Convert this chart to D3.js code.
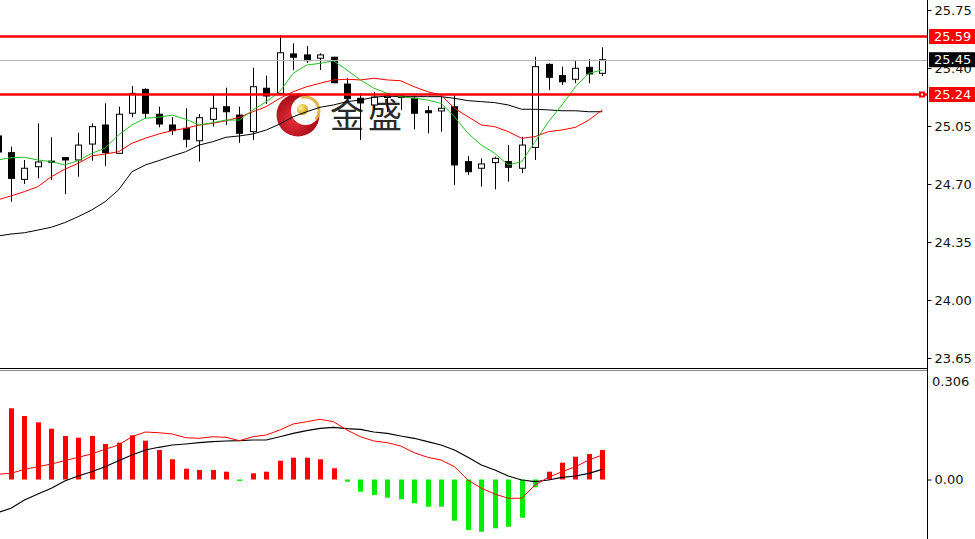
<!DOCTYPE html>
<html><head><meta charset="utf-8">
<script src="https://cdn.jsdelivr.net/npm/d3@7"></script>
<style>html,body{margin:0;padding:0;background:#fff;overflow:hidden}</style>
</head><body>
<svg id="c" width="975" height="539"></svg>
<script>
// ---- data (index -1 is the partly hidden bar on the left edge) ----
const candleIndex = d3.range(-1, 45);
const open  = [24.99,24.889,24.728,24.804,24.838,24.859,24.845,24.941,25.056,24.885,25.127,25.271,25.121,25.056,25.036,24.961,25.090,25.166,25.116,25.016,25.278,25.247,25.485,25.479,25.459,25.465,25.303,25.217,25.177,25.222,25.231,25.217,25.142,25.141,25.166,24.835,24.795,24.829,24.835,24.795,24.921,25.422,25.354,25.332,25.404,25.368];
const high  = [25.01,24.925,24.845,25.066,24.982,24.862,25.010,25.066,25.187,25.166,25.291,25.278,25.166,25.103,25.157,25.122,25.237,25.281,25.166,25.402,25.354,25.599,25.549,25.533,25.489,25.468,25.338,25.249,25.255,25.249,25.243,25.237,25.171,25.227,25.237,24.869,24.855,24.865,24.935,24.985,25.468,25.428,25.408,25.448,25.453,25.525];
const low   = [24.87,24.593,24.700,24.734,24.724,24.640,24.744,24.841,24.809,24.885,25.103,25.096,25.042,24.996,24.921,24.835,25.046,25.056,24.949,24.966,25.183,25.247,25.388,25.432,25.388,25.308,25.207,24.966,25.147,25.134,25.147,25.030,25.006,25.016,24.694,24.754,24.684,24.668,24.714,24.765,24.845,25.267,25.297,25.308,25.308,25.352];
const close = [24.893,24.734,24.795,24.833,24.836,24.845,24.935,25.046,24.889,25.121,25.247,25.127,25.062,25.022,24.970,25.100,25.157,25.136,25.006,25.287,25.231,25.492,25.465,25.444,25.479,25.311,25.217,25.189,25.225,25.231,25.222,25.127,25.130,25.157,24.815,24.774,24.821,24.855,24.801,24.935,25.408,25.344,25.317,25.398,25.364,25.450];
const maFast = [24.845,24.859,24.861,24.845,24.835,24.815,24.841,24.885,24.916,24.996,25.056,25.097,25.103,25.116,25.091,25.056,25.070,25.086,25.086,25.147,25.197,25.257,25.368,25.418,25.428,25.444,25.388,25.328,25.278,25.247,25.227,25.217,25.207,25.187,25.106,25.006,24.935,24.885,24.815,24.835,24.955,25.076,25.177,25.287,25.368,25.388];
const maMid  = [24.604,24.628,24.654,24.684,24.744,24.789,24.825,24.869,24.881,24.895,24.946,24.976,25.002,25.022,25.036,25.056,25.066,25.082,25.103,25.136,25.167,25.217,25.257,25.287,25.308,25.328,25.332,25.328,25.338,25.328,25.323,25.287,25.257,25.237,25.157,25.106,25.056,25.046,25.016,24.976,24.986,25.016,25.026,25.042,25.086,25.147];
const maSlow = [24.386,24.398,24.406,24.422,24.439,24.467,24.503,24.543,24.593,24.664,24.774,24.815,24.841,24.869,24.895,24.935,24.955,24.982,24.990,25.002,25.026,25.062,25.106,25.136,25.163,25.177,25.197,25.207,25.223,25.231,25.227,25.227,25.227,25.227,25.217,25.203,25.197,25.191,25.177,25.151,25.151,25.147,25.142,25.142,25.136,25.136];
const macdHist   = [null,0.2027,0.1808,0.1628,0.1446,0.1238,0.119,0.1238,0.1011,0.1048,0.1258,0.1104,0.084,0.0575,0.0307,0.027,0.027,0.0222,-0.003,0.0176,0.0222,0.0535,0.0621,0.0621,0.0575,0.0319,-0.0063,-0.0347,-0.0441,-0.0518,-0.0564,-0.0677,-0.0774,-0.0774,-0.1173,-0.1438,-0.1486,-0.1389,-0.1344,-0.1087,-0.0222,0.0222,0.0478,0.0649,0.0726,0.084];
const macdMain   = [0.015,0.0176,0.029,0.0364,0.0441,0.0535,0.0632,0.0726,0.086,0.0982,0.1218,0.1352,0.1332,0.1295,0.119,0.1173,0.1218,0.1201,0.1104,0.1218,0.1267,0.1409,0.158,0.1645,0.1714,0.1645,0.1409,0.1218,0.1096,0.1048,0.0954,0.0763,0.0632,0.0555,0.0364,-0.0014,-0.025,-0.0413,-0.0535,-0.0535,-0.0157,0.0063,0.0222,0.0364,0.0555,0.0697];
const macdSignal = [-0.094,-0.082,-0.0584,-0.0413,-0.025,-0.0043,0.01,0.0222,0.0364,0.0535,0.0697,0.084,0.0917,0.0982,0.1011,0.1048,0.1076,0.1096,0.1104,0.1124,0.1124,0.1218,0.1315,0.1389,0.1457,0.1486,0.1446,0.1429,0.1352,0.1315,0.1238,0.1173,0.1076,0.0982,0.084,0.0632,0.0413,0.027,0.01,-0.0014,-0.0063,-0.0014,0.0063,0.01,0.0176,0.029];
const priceTicks = [25.75, 25.40, 25.05, 24.70, 24.35, 24.00, 23.65];
const levelLines = [25.59, 25.24];
const lastPrice = 25.45;
const macdTicks = [0];
const macdMax = 0.306;
const watermark = "金盛";

// ---- layout ----
const AX = 927, UPB = 368, LOT = 372, H = 539;
const svg = d3.select('#c');
const x  = d3.scaleLinear().domain([0, 44]).range([11, 602.3]);
const yP = d3.scaleLinear().domain([23.65, 25.75]).range([358, 10]);
const yM = d3.scaleLinear().domain([0, macdMax]).range([479.5, LOT]);

const defs = svg.append('defs');
defs.append('clipPath').attr('id','cu').append('rect').attr('x',0).attr('y',0).attr('width',AX).attr('height',UPB);
defs.append('clipPath').attr('id','cl').append('rect').attr('x',0).attr('y',LOT).attr('width',AX).attr('height',H-LOT);
const rg = defs.append('radialGradient').attr('id','rg').attr('cx','40%').attr('cy','60%').attr('r','60%');
rg.append('stop').attr('offset','0%').attr('stop-color','#e8303a');
rg.append('stop').attr('offset','100%').attr('stop-color','#a00a14');
const gg = defs.append('radialGradient').attr('id','gg').attr('cx','35%').attr('cy','35%').attr('r','70%');
gg.append('stop').attr('offset','0%').attr('stop-color','#fff2a0');
gg.append('stop').attr('offset','100%').attr('stop-color','#c99a10');

const data = candleIndex.map((k, j) => ({k, o: open[j], h: high[j], l: low[j], c: close[j],
  g: maFast[j], r: maMid[j], b: maSlow[j], hist: macdHist[j], m: macdMain[j], s: macdSignal[j]}));

// ---- upper panel ----
const up = svg.append('g').attr('clip-path','url(#cu)');

// watermark
const wm = up.append('g');
wm.append('circle').attr('cx',298).attr('cy',115).attr('r',21.5).attr('fill','url(#rg)');
wm.append('circle').attr('cx',305.5).attr('cy',110.5).attr('r',14.5).attr('fill','#fff');
const arc = d3.arc().innerRadius(12).outerRadius(15).startAngle(-0.3).endAngle(2.3);
wm.append('path').attr('d', arc()).attr('transform','translate(305.5,110.5)').attr('fill','#d9a62a').attr('opacity',0.85);
wm.append('circle').attr('cx',302.5).attr('cy',109.5).attr('r',5.5).attr('fill','url(#gg)');
wm.append('text').attr('x',330).attr('y',128).text(watermark)
  .attr('font-family','"Noto Sans CJK SC"').attr('font-size',34).attr('letter-spacing',4)
  .attr('fill','#2a2a2a');

// candles
const cg = up.append('g');
data.forEach(d => {
  const cx = Math.round(x(d.k)) + 0.5;
  cg.append('line').attr('x1',cx).attr('x2',cx).attr('y1',yP(d.h)).attr('y2',yP(d.l))
    .attr('stroke','#000').attr('stroke-width',1);
  const top = yP(Math.max(d.o, d.c)), bot = yP(Math.min(d.o, d.c));
  cg.append('rect').attr('x',cx-3).attr('y',top).attr('width',6).attr('height',Math.max(1, bot-top))
    .attr('fill', d.c < d.o ? '#000' : '#fff').attr('stroke','#000').attr('stroke-width',1);
});

// moving averages
const mk = key => d3.line().x(d => x(d.k)).y(d => yP(d[key]));
up.append('path').datum(data).attr('d', mk('b')).attr('fill','none').attr('stroke','#000').attr('stroke-width',1);
up.append('path').datum(data).attr('d', mk('r')).attr('fill','none').attr('stroke','#ff0000').attr('stroke-width',1);
up.append('path').datum(data).attr('d', mk('g')).attr('fill','none').attr('stroke','#22c022').attr('stroke-width',1);

// current price line and levels
up.append('line').attr('x1',0).attr('x2',AX).attr('y1',Math.round(yP(lastPrice))+0.5).attr('y2',Math.round(yP(lastPrice))+0.5)
  .attr('stroke','#b4b4b4').attr('stroke-width',1);
levelLines.forEach(v => {
  up.append('line').attr('x1',0).attr('x2',AX).attr('y1',yP(v)).attr('y2',yP(v))
    .attr('stroke','#ff0000').attr('stroke-width',2.6);
});
up.append('rect').attr('x',AX-8).attr('y',yP(levelLines[1])-3).attr('width',6).attr('height',6).attr('fill','#ff0000');
up.append('rect').attr('x',AX-6).attr('y',yP(levelLines[1])-1).attr('width',2).attr('height',2).attr('fill','#fff');

// ---- lower panel ----
const lo = svg.append('g').attr('clip-path','url(#cl)');
data.filter(d => d.hist !== null).forEach(d => {
  const cx = Math.round(x(d.k));
  const y0 = yM(0), y1 = yM(d.hist);
  lo.append('rect').attr('x',cx-2).attr('y',Math.min(y0,y1)).attr('width',5).attr('height',Math.max(1.5, Math.abs(y1-y0)))
    .attr('fill', d.hist >= 0 ? '#ff0000' : '#00ee00');
});
const ml = key => d3.line().x(d => x(d.k)).y(d => yM(d[key]));
lo.append('path').datum(data).attr('d', ml('s')).attr('fill','none').attr('stroke','#000').attr('stroke-width',1.2);
lo.append('path').datum(data).attr('d', ml('m')).attr('fill','none').attr('stroke','#ff0000').attr('stroke-width',1);

// ---- frame ----
svg.append('line').attr('x1',0).attr('x2',AX).attr('y1',UPB+0.5).attr('y2',UPB+0.5).attr('stroke','#000');
svg.append('line').attr('x1',0).attr('x2',AX).attr('y1',LOT-1.5).attr('y2',LOT-1.5).attr('stroke','#888');
svg.append('line').attr('x1',AX+0.5).attr('x2',AX+0.5).attr('y1',0).attr('y2',H).attr('stroke','#000');

// ---- axes ----
const font = '"DejaVu Sans", Verdana, sans-serif';
const pa = svg.append('g').attr('transform',`translate(${AX+0.5},0)`)
  .call(d3.axisRight(yP).tickValues(priceTicks).tickSize(4).tickPadding(3).tickFormat(d3.format('.2f')));
pa.select('.domain').remove();
pa.selectAll('text').attr('font-family',font).attr('font-size',13).attr('fill','#111');
pa.selectAll('line').attr('stroke','#000');

const labelBox = (v, fill) => {
  const g = svg.append('g');
  g.append('rect').attr('x',AX+2).attr('y',yP(v)-7.5).attr('width',975-AX-2).attr('height',15).attr('fill',fill);
  g.append('text').attr('x',AX+7).attr('y',yP(v)).attr('dy','0.36em').text(d3.format('.2f')(v))
    .attr('font-family',font).attr('font-size',13).attr('fill','#fff');
};
labelBox(lastPrice, '#000');
levelLines.forEach(v => labelBox(v, '#ff0000'));

const ma = svg.append('g').attr('transform',`translate(${AX+0.5},0)`)
  .call(d3.axisRight(yM).tickValues(macdTicks).tickSize(4).tickPadding(3).tickFormat(d3.format('.2f')));
ma.select('.domain').remove();
ma.selectAll('text').attr('font-family',font).attr('font-size',13).attr('fill','#111');
ma.selectAll('line').attr('stroke','#000');
svg.append('text').attr('x',AX+5).attr('y',yM(macdMax)).attr('dy','1.05em').text(d3.format('.3f')(macdMax))
  .attr('font-family',font).attr('font-size',13).attr('fill','#111');
</script>
</body></html>
